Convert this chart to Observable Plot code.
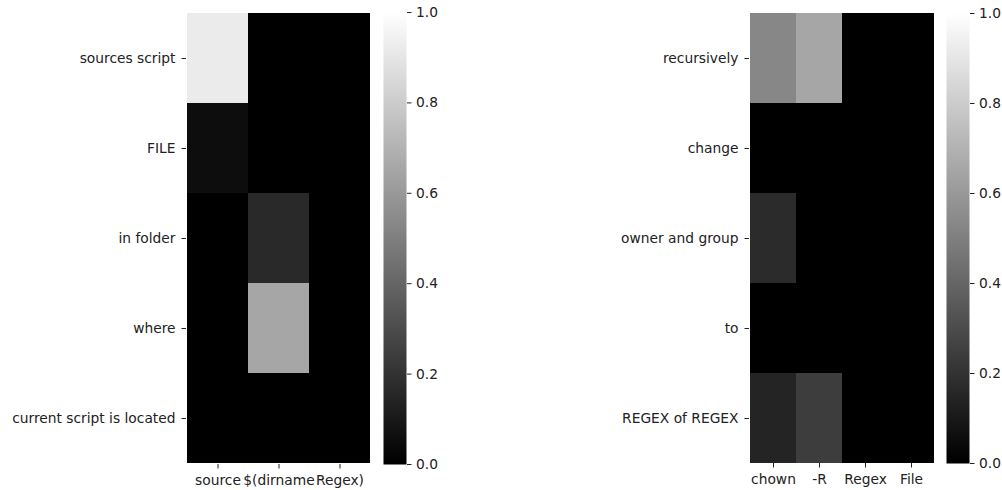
<!DOCTYPE html>
<html>
<head>
<meta charset="utf-8">
<script src="https://cdn.jsdelivr.net/npm/d3@7"></script>
<script src="https://cdn.jsdelivr.net/npm/@observablehq/plot@0.6"></script>
<style>
  html, body { margin: 0; padding: 0; background: #fff; }
  #root { position: relative; width: 1002px; height: 490px; overflow: hidden; }
  #root > div { position: absolute; top: 0; }
  #root svg { max-width: none !important; font-family: "DejaVu Sans", sans-serif; }
</style>
</head>
<body>
<div id="root">
  <div id="h1" style="left:0px;width:380px"></div>
  <div id="c1" style="left:383px;width:60px"></div>
  <div id="h2" style="left:560px;width:385px"></div>
  <div id="c2" style="left:946px;width:60px"></div>
</div>
<script>
// ---- data ----
const leftRows = ["sources script", "FILE", "in folder", "where", "current script is located"];
const leftCols = ["source", "$(dirname", "Regex)"];
const leftValues = [
  [0.92, 0.00, 0.00],
  [0.05, 0.00, 0.00],
  [0.00, 0.16, 0.00],
  [0.00, 0.65, 0.00],
  [0.00, 0.00, 0.00]
];
const rightRows = ["recursively", "change", "owner and group", "to", "REGEX of REGEX"];
const rightCols = ["chown", "-R", "Regex", "File"];
const rightValues = [
  [0.53, 0.65, 0.00, 0.00],
  [0.00, 0.00, 0.00, 0.00],
  [0.17, 0.00, 0.00, 0.00],
  [0.00, 0.00, 0.00, 0.00],
  [0.14, 0.24, 0.00, 0.00]
];
const colorbarTicks = [0, 0.2, 0.4, 0.6, 0.8, 1.0];

const FONT = 13.8;
const TEXT = "#222";
const colorScale = {type: "linear", domain: [0, 1], range: ["black", "white"], interpolate: "rgb"};

function table(rows, cols, values) {
  const out = [];
  rows.forEach((r, i) => cols.forEach((c, j) => out.push({row: r, col: c, value: values[i][j]})));
  return out;
}

function heatmap(rows, cols, values, o) {
  return Plot.plot({
    width: o.width, height: 490,
    marginLeft: o.ml, marginRight: o.mr, marginTop: o.mt, marginBottom: o.mb,
    style: {fontSize: FONT + "px", color: TEXT, background: "transparent", overflow: "visible"},
    x: {domain: cols, padding: 0, label: null},
    y: {domain: rows, padding: 0, label: null},
    color: colorScale,
    marks: [
      Plot.cell(table(rows, cols, values), {x: "col", y: "row", fill: "value", inset: 0, shapeRendering: "crispEdges"}),
      Plot.axisX({tickSize: 4.5, tickPadding: 6, label: null, fontSize: FONT}),
      Plot.axisY({tickSize: 4.5, tickPadding: 6.5, label: null, fontSize: FONT})
    ]
  });
}

function colorbar(o) {
  return Plot.plot({
    width: 60, height: 490,
    marginLeft: 0, marginRight: 37, marginTop: o.mt, marginBottom: o.mb,
    style: {fontSize: FONT + "px", color: TEXT, background: "transparent", overflow: "visible"},
    x: {domain: [0, 1], axis: null},
    y: {domain: [0, 1], label: null},
    color: colorScale,
    marks: [
      Plot.raster({fill: (x, y) => y, x1: 0, x2: 1, y1: 0, y2: 1, width: 1, height: 256}),
      Plot.axisY({anchor: "right", ticks: colorbarTicks, tickFormat: d3.format(".1f"), tickSize: 4.5, tickPadding: 5, label: null, fontSize: FONT})
    ]
  });
}

document.getElementById("h1").append(heatmap(leftRows, leftCols, leftValues, {width: 380, ml: 186, mr: 9, mt: 12, mb: 26}));
document.getElementById("c1").append(colorbar({mt: 12, mb: 26}));
document.getElementById("h2").append(heatmap(rightRows, rightCols, rightValues, {width: 385, ml: 189, mr: 10.5, mt: 13, mb: 27}));
document.getElementById("c2").append(colorbar({mt: 13, mb: 27}));
</script>
</body>
</html>
